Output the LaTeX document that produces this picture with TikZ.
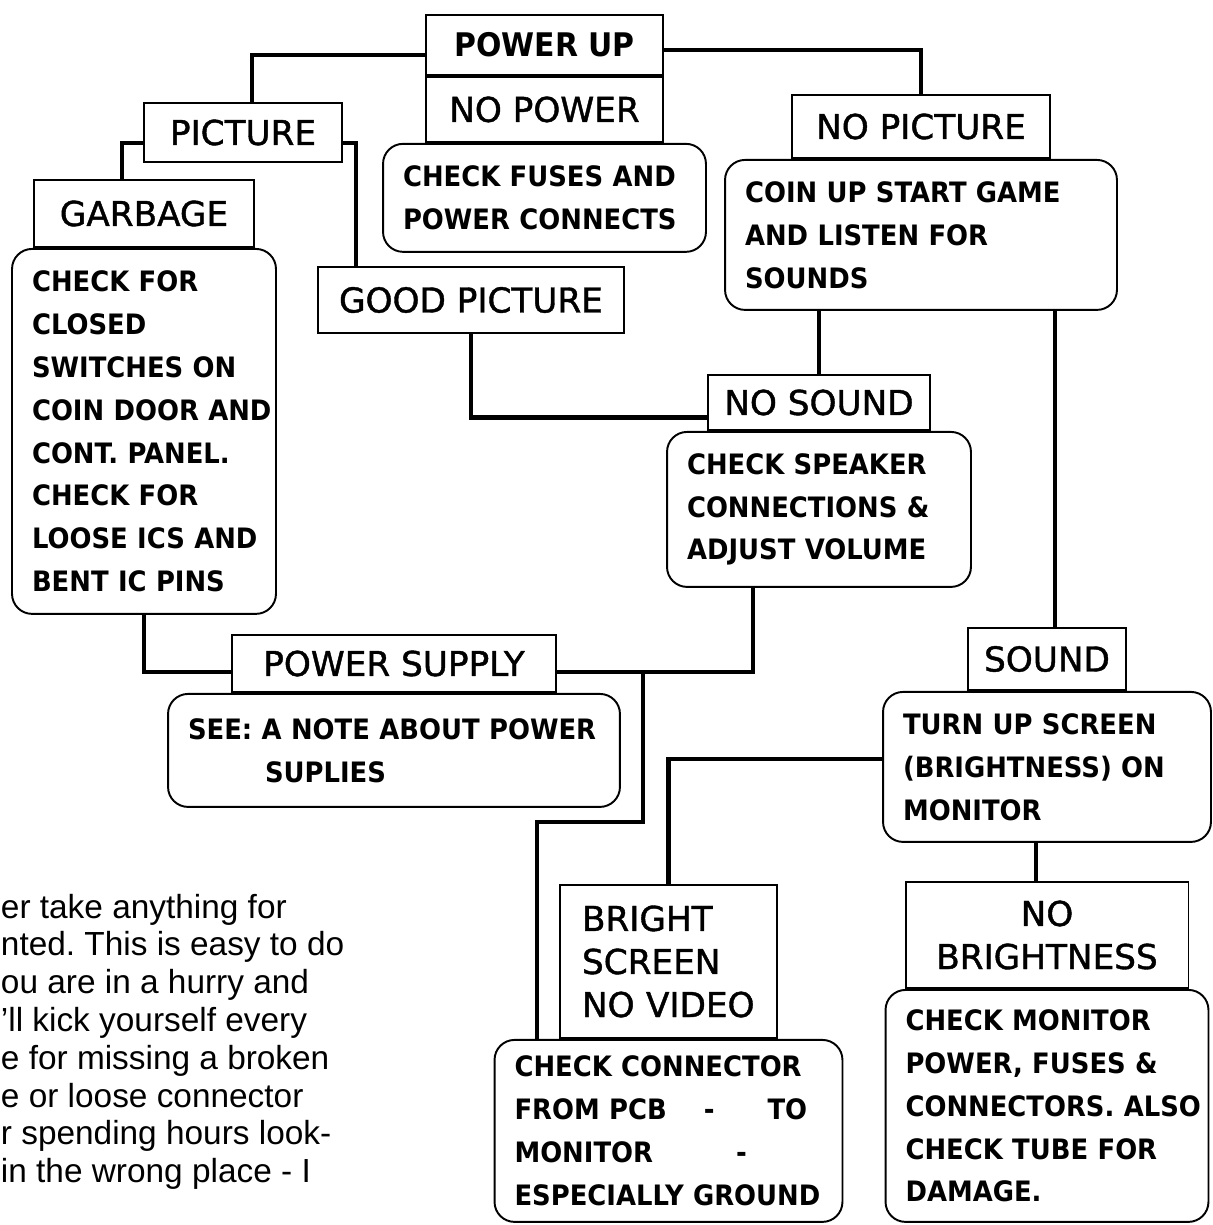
\documentclass[tikz,border=0pt]{standalone}
\usepackage{fontspec}
\newfontfamily\titlefont{DejaVu Sans}[FakeBold=1.2]
\newfontfamily\stepfont{DejaVu Sans}[FakeStretch=0.92]
\newfontfamily\notefont{Liberation Sans}
\usetikzlibrary{positioning}
\frenchspacing

\begin{document}
\begin{tikzpicture}[x=0.02cm, y=-0.02cm, line width=1.1pt,
  title/.style={draw, rectangle, inner sep=0pt, align=center, font=\titlefont\fontsize{19.5}{24.5}\selectfont},
  check/.style={draw, rounded corners=0.4cm, inner xsep=0.4cm, inner ysep=0pt, align=left, font=\stepfont\bfseries\fontsize{16}{24.4}\selectfont},
  link/.style={line width=2.5pt}]
  \path[use as bounding box, clip] (0,0) rectangle (1213,1225);

  % top of the chart
  \node[title, font=\stepfont\bfseries\fontsize{18.5}{22}\selectfont, minimum width=4.74cm, minimum height=1.2cm] (pwrup) at (544.5,45) {POWER UP};
  \node[title, minimum width=4.74cm, minimum height=1.3cm] (nopwr) [below=0pt of pwrup] {NO POWER};
  \node[check, text width=5.66cm, minimum height=2.16cm] (fuses) [below=0pt of nopwr] {CHECK~FUSES~AND\\POWER~CONNECTS};

  % picture side
  \node[title, minimum width=3.96cm, minimum height=1.18cm] (pict) at (243,132.5) {PICTURE};
  \node[title, minimum width=4.4cm, minimum height=1.34cm] (garb) at (144,213.5) {GARBAGE};
  \node[check, text width=4.48cm, minimum height=7.3cm] (closed) [below=0pt of garb] {CHECK~FOR\\CLOSED\\SWITCHES~ON\\COIN~DOOR~AND\\CONT.~PANEL.\\CHECK~FOR\\LOOSE~ICS~AND\\BENT~IC~PINS};
  \node[title, minimum width=6.12cm, minimum height=1.32cm] (goodpic) at (471,300) {GOOD PICTURE};

  % no picture side
  \node[title, minimum width=5.16cm, minimum height=1.26cm] (nopic) at (921,126.5) {NO PICTURE};
  \node[check, text width=7.04cm, minimum height=3cm] (coinup) [below=0pt of nopic] {COIN~UP~START~GAME\\AND~LISTEN~FOR\\SOUNDS};
  \node[title, minimum width=4.44cm, minimum height=1.1cm] (nosnd) at (819,402.5) {NO SOUND};
  \node[check, text width=5.28cm, minimum height=3.1cm] (speaker) [below=0pt of nosnd] {CHECK~SPEAKER\\CONNECTIONS~\&\\ADJUST~VOLUME};

  % power supply
  \node[title, minimum width=6.48cm, minimum height=1.14cm] (psu) at (394,663.5) {POWER SUPPLY};
  \node[check, text width=8.24cm, minimum height=2.26cm] (seenote) [below=0pt of psu] {SEE:~A~NOTE~ABOUT~POWER\\\hspace*{1.54cm}SUPLIES};

  % sound
  \node[title, minimum width=3.16cm, minimum height=1.24cm] (sound) at (1047,659) {SOUND};
  \node[check, text width=5.76cm, minimum height=3cm] (turnup) [below=0pt of sound] {TURN~UP~SCREEN\\(BRIGHTNESS)~ON\\MONITOR};

  % bottom row
  \node[title, align=left, inner xsep=0.44cm, text width=3.46cm, minimum height=3.06cm] (bright) at (668.5,961.5) {BRIGHT\\SCREEN\\NO VIDEO};
  \node[check, text width=6.16cm, minimum height=3.64cm] (conn) [below=0pt of bright] {CHECK~CONNECTOR\\FROM~PCB\hspace{0.74cm}-\hspace{1.06cm}TO\\MONITOR\hspace{1.66cm}-\\ESPECIALLY~GROUND};
  \node[title, minimum width=5.66cm, minimum height=2.12cm] (nobright) at (1047,935) {NO\\BRIGHTNESS};
  \node[check, text width=5.66cm, minimum height=4.64cm] (monitor) [below=0pt of nobright] {CHECK~MONITOR\\POWER,~FUSES~\&\\CONNECTORS.~ALSO\\CHECK~TUBE~FOR\\DAMAGE.};

  % note at the bottom left
  \node[anchor=north west, inner sep=0pt, align=left, font=\notefont\fontsize{19}{21.5}\selectfont] (note) at (0,893) {er take anything for\\nted. This is easy to do\\ou are in a hurry and\\’ll kick yourself every\\e for missing a broken\\e or loose connector\\r spending hours look-\\in the wrong place - I};

  % connectors
  \draw[link] ([yshift=-0.2cm]pwrup.west) -| ([xshift=0.18cm]pict.north);
  \draw[link] ([yshift=-0.1cm]pwrup.east) -| (nopic.north);
  \draw[link] ([yshift=-0.21cm]pict.west) -| ([xshift=-0.44cm]garb.north);
  \draw[link] ([yshift=-0.21cm]pict.east) -| ([xshift=0.78cm]goodpic.north west);
  \draw[link] (goodpic.south) |- ([yshift=-0.3cm]nosnd.west);
  \draw[link] (coinup.south -| nosnd.north) -- (nosnd.north);
  \draw[link] ([xshift=0.16cm]sound.north |- coinup.south) -- ([xshift=0.16cm]sound.north);
  \draw[link] (closed.south) |- ([yshift=-0.17cm]psu.west);
  \draw[link] ([xshift=-1.32cm]speaker.south) |- ([yshift=-0.17cm]psu.east);
  \coordinate (jn) at ([xshift=1.72cm,yshift=-0.17cm]psu.east);
  \draw[link] (jn) -- ++(0,150) -| ([xshift=-2.63cm]conn.north);
  \draw[link] ([yshift=0.16cm]turnup.west) -| (bright.north);
  \draw[link] ([xshift=-0.22cm]turnup.south) -- ([xshift=-0.22cm]turnup.south |- nobright.north);
\end{tikzpicture}
\end{document}
